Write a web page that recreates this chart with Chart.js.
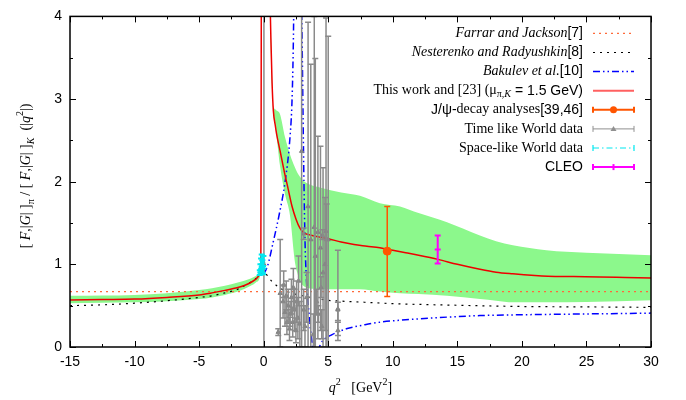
<!DOCTYPE html>
<html>
<head>
<meta charset="utf-8">
<script src="https://cdn.jsdelivr.net/npm/chart.js@4.4.1/dist/chart.umd.min.js"></script>
<style>
  html, body { margin: 0; padding: 0; background: #fff; }
</style>
</head>
<body>
<canvas id="ratioChart" width="686" height="400"></canvas>
<script>
// q^2 in GeV^2, ratio values
const farQ2 = [-15, 30];
const farVal = [0.67, 0.67];

const nesQ2 = [-15, -12.5, -10, -7.5, -5, -4, -3, -2, -1.5, -1, -0.5, 0, 0.6, 1.2, 2, 3, 4, 5, 6, 8, 10, 15, 20, 25, 30];
const nesVal = [0.50, 0.51, 0.53, 0.56, 0.60, 0.62, 0.655, 0.70, 0.74, 0.785, 0.84, 0.90, 0.80, 0.72, 0.66, 0.62, 0.59, 0.565, 0.555, 0.54, 0.525, 0.505, 0.49, 0.485, 0.48];

const bakQ2 = [0, 0.3, 0.74, 1.2, 1.65, 2.04, 2.2, 2.3, 2.36, 2.6, 2.9, 2.97, 3.05, 3.12, 3.2, 3.3, 3.45, 3.6, 3.75, 3.8, 4.25, 4.4, 4.6, 5.3, 6.4, 7.85, 9, 12, 16.75, 20, 25, 30];
const bakVal = [0.88, 0.98, 1.27, 1.6, 1.99, 2.54, 3.0, 3.7, 4.5, null, 4.5, 3.8, 2.8, 2.0, 1.3, 0.85, 0.52, 0.25, 0.05, -0.05, -0.02, 0.03, 0.08, 0.15, 0.22, 0.27, 0.30, 0.34, 0.38, 0.39, 0.40, 0.41];

const thisQ2 = [-15, -12.5, -10, -7.5, -5, -4, -3, -2, -1.5, -1, -0.6, -0.3, -0.22, -0.18, 0.1, 0.45, 0.55, 0.65, 0.75, 0.9, 1.0, 1.3, 1.6, 1.9, 2.2, 2.5, 2.8, 3.1, 3.5, 4, 5, 6, 7, 8, 9, 10, 11, 12, 13.5, 15, 16.75, 18, 19.3, 21, 22, 24, 26, 28, 30];
const thisVal = [0.57, 0.575, 0.58, 0.60, 0.63, 0.655, 0.685, 0.72, 0.745, 0.78, 0.82, 0.87, 0.95, 4.5, null, 4.5, 3.8, 3.2, 2.86, 2.68, 2.58, 2.35, 2.12, 1.91, 1.7, 1.55, 1.44, 1.38, 1.36, 1.34, 1.31, 1.27, 1.24, 1.22, 1.2, 1.17, 1.14, 1.11, 1.06, 1.0, 0.94, 0.905, 0.885, 0.865, 0.857, 0.852, 0.848, 0.842, 0.836];

const bandQ2 = [-15, -10, -7.5, -5, -4, -3, -2, -1, -0.6, -0.3, -0.22, 0.1, 0.42, 0.6, 0.75, 0.87, 1.0, 1.26, 1.65, 2.04, 2.4, 2.6, 2.81, 3.07, 3.5, 4.36, 6, 7.46, 9, 10.56, 12, 14.2, 16.75, 18, 19.3, 21.9, 25, 30];
const bandLo = [0.53, 0.54, 0.555, 0.58, 0.60, 0.63, 0.67, 0.74, 0.78, 0.84, 0.92, null, 4.5, 3.6, 2.82, 2.70, 2.55, 2.2, 1.85, 1.59, 1.05, 0.9, 0.8, 0.74, 0.71, 0.70, 0.70, 0.70, 0.67, 0.65, 0.64, 0.62, 0.58, 0.56, 0.54, 0.54, 0.545, 0.565];
const bandHi = [0.62, 0.63, 0.65, 0.69, 0.71, 0.74, 0.78, 0.83, 0.86, 0.90, 0.98, null, 4.5, 3.3, 2.9, 2.88, 2.86, 2.82, 2.54, 2.33, 2.18, 2.11, 2.06, 2.01, 1.97, 1.93, 1.87, 1.83, 1.74, 1.70, 1.62, 1.51, 1.35, 1.28, 1.23, 1.17, 1.14, 1.11];

const timeQ2 = [0.02, 1.13, 1.28, 1.5, 1.55, 1.65, 1.75, 1.8, 1.9, 2.0, 2.05, 2.15, 2.25, 2.3, 2.4, 2.5, 2.55, 2.65, 2.7, 2.8, 2.94, 3.1, 3.1, 3.2, 3.33, 3.44, 3.65, 3.85, 3.92, 4.0, 4.1, 4.2, 4.23, 4.4, 4.45, 4.5, 4.55, 4.6, 4.75, 4.83, 4.88, 5.0, 5.75, 5.75, 5.75];
const timeVal = [1.0, 0.18, 0.65, 0.55, 0.75, 0.42, 0.62, 0.30, 0.50, 0.22, 0.40, 0.60, 0.30, 0.72, 0.45, 0.20, 0.55, 0.35, 0.80, 0.28, 2.37, 0.45, 1.37, 0.25, 0.60, 1.7, 1.3, 0.15, 1.45, 1.1, 0.55, 1.39, 0.40, 1.2, 0.72, 0.25, 1.35, 0.9, 1.0, 1.4, 1.3, 1.3, 0.46, 0.45, 0.20];
const timeLo = [-1, 0.14, 0.0, 0.35, 0.6, 0.25, 0.45, 0.15, 0.3, 0.08, 0.25, 0.4, 0.12, 0.45, 0.2, 0.05, 0.3, 0.1, 0.5, 0.0, -1, 0.2, 1.3, 0.0, 0.3, -1, -1, -0.1, -1, -0.5, 0.4, 0.1, 0.3, 0.2, 0.6, 0.1, 1.3, 0.0, 0.2, -0.5, -0.5, -0.5, 0.08, 0.32, 0.14];
const timeHi = [5, 0.22, 1.3, 0.75, 0.92, 0.6, 0.8, 0.45, 0.7, 0.36, 0.55, 0.82, 0.48, 0.95, 0.7, 0.35, 0.8, 0.6, 1.1, 0.55, 5, 0.7, 1.44, 0.5, 0.9, 3.93, 3.42, 0.4, 4.0, 3.49, 0.7, 2.55, 0.5, 2.43, 0.85, 0.45, 1.42, 2.17, 1.81, 3.98, 1.73, 3.76, 1.17, 0.54, 0.3];

const spaceQ2 = [-0.3, -0.25, -0.2, -0.15, -0.1, -0.05, -0.02];
const spaceVal = [0.90, 0.95, 1.00, 1.04, 0.97, 0.93, 1.02];
const spaceLo = [0.87, 0.90, 0.94, 0.97, 0.90, 0.88, 0.95];
const spaceHi = [0.93, 1.00, 1.07, 1.12, 1.05, 0.98, 1.10];

const jpsiQ2 = [9.57];
const jpsiVal = [1.16];
const jpsiLo = [0.61];
const jpsiHi = [1.70];

const cleoQ2 = [13.48];
const cleoVal = [1.18];
const cleoLo = [1.01];
const cleoHi = [1.35];

const xTicks = [-15, -10, -5, 0, 5, 10, 15, 20, 25, 30];
const yTicks = [0, 1, 2, 3, 4];

const SERIF = '"Liberation Serif", "DejaVu Serif", serif';
const SANS = '"Liberation Sans", Arial, sans-serif';

function pts(xs, ys) {
    return xs.map((x, i) => ({ x: x, y: ys[i] }));
}

// draws a run of text pieces with their own fonts and vertical shifts
function richWidth(ctx, parts) {
    let w = 0;
    parts.forEach(p => { ctx.font = p.f; w += ctx.measureText(p.t).width; });
    return w;
}
function drawRich(ctx, parts, x, y) {
    let cx = x;
    parts.forEach(p => {
        ctx.font = p.f;
        ctx.fillText(p.t, cx, y + (p.dy || 0));
        cx += ctx.measureText(p.t).width;
    });
}

const errorBars = {
    id: 'errorBars',
    afterDatasetsDraw(chart) {
        const { ctx, chartArea: a, scales: { x, y } } = chart;
        ctx.save();
        ctx.beginPath();
        ctx.rect(a.left, a.top, a.right - a.left, a.bottom - a.top);
        ctx.clip();
        chart.data.datasets.forEach(ds => {
            if (!ds.errLo) return;
            ctx.strokeStyle = ds.errColor;
            ctx.lineWidth = ds.errWidth;
            ds.data.forEach((p, i) => {
                const px = x.getPixelForValue(p.x);
                const y0 = y.getPixelForValue(ds.errLo[i]);
                const y1 = y.getPixelForValue(ds.errHi[i]);
                ctx.beginPath();
                ctx.moveTo(px, y0); ctx.lineTo(px, y1);
                ctx.moveTo(px - 3, y0); ctx.lineTo(px + 3, y0);
                ctx.moveTo(px - 3, y1); ctx.lineTo(px + 3, y1);
                ctx.stroke();
            });
        });
        ctx.restore();
    }
};

const frameAndTicks = {
    id: 'frameAndTicks',
    afterDraw(chart) {
        const { ctx, chartArea: a, scales: { x, y } } = chart;
        ctx.save();
        ctx.strokeStyle = '#000';
        ctx.lineWidth = 1;
        ctx.beginPath();
        for (let v = -15; v <= 30; v += 2.5) {
            const px = Math.round(x.getPixelForValue(v)) + 0.5;
            const len = (v % 5 === 0) ? 6 : 3;
            ctx.moveTo(px, a.bottom); ctx.lineTo(px, a.bottom - len);
            ctx.moveTo(px, a.top); ctx.lineTo(px, a.top + len);
        }
        for (let v = 0; v <= 4; v += 0.5) {
            const py = Math.round(y.getPixelForValue(v)) + 0.5;
            const len = (v % 1 === 0) ? 6 : 3;
            ctx.moveTo(a.left, py); ctx.lineTo(a.left + len, py);
            ctx.moveTo(a.right, py); ctx.lineTo(a.right - len, py);
        }
        ctx.stroke();
        ctx.lineWidth = 1.5;
        ctx.strokeRect(a.left, a.top, a.right - a.left, a.bottom - a.top);

        // axis titles
        ctx.fillStyle = '#000';
        ctx.textBaseline = 'alphabetic';
        const f14 = '14px ' + SERIF, i14 = 'italic 14px ' + SERIF;
        const f10 = '10px ' + SERIF, i10 = 'italic 10px ' + SERIF;
        const xTitle = [
            { t: 'q', f: i14 }, { t: '2', f: f10, dy: -7 },
            { t: '   [GeV', f: f14 }, { t: '2', f: f10, dy: -7 }, { t: ']', f: f14 }
        ];
        const xw = richWidth(ctx, xTitle);
        drawRich(ctx, xTitle, (a.left + a.right) / 2 - xw / 2, 392);

        const yTitle = [
            { t: '[ ', f: f14 }, { t: 'F', f: i14 }, { t: ',|', f: f14 }, { t: 'G', f: i14 },
            { t: '| ]', f: f14 }, { t: 'π', f: f10, dy: 4 },
            { t: ' / [ ', f: f14 }, { t: 'F', f: i14 }, { t: ',|', f: f14 }, { t: 'G', f: i14 },
            { t: '| ]', f: f14 }, { t: 'K', f: i10, dy: 4 },
            { t: '  (|', f: f14 }, { t: 'q', f: i14 }, { t: '2', f: f10, dy: -7 }, { t: '|)', f: f14 }
        ];
        const yw = richWidth(ctx, yTitle);
        ctx.save();
        ctx.translate(30, 176);
        ctx.rotate(-Math.PI / 2);
        drawRich(ctx, yTitle, -yw / 2, 0);
        ctx.restore();
        ctx.restore();
    }
};

const keyBox = {
    id: 'keyBox',
    afterDraw(chart) {
        const { ctx, chartArea: a } = chart;
        const f14 = '14px ' + SERIF, i14 = 'italic 14px ' + SERIF;
        const s14 = '14px ' + SANS;
        const f10 = '10px ' + SERIF, i10 = 'italic 10px ' + SERIF;
        const rows = [
            [{ t: 'Farrar and Jackson', f: i14 }, { t: '[7]', f: s14 }],
            [{ t: 'Nesterenko and Radyushkin', f: i14 }, { t: '[8]', f: s14 }],
            [{ t: 'Bakulev et al.', f: i14 }, { t: '[10]', f: s14 }],
            [{ t: 'This work and [23] (', f: f14 }, { t: 'μ', f: f14 }, { t: 'π', f: f10, dy: 4 },
             { t: ',', f: f10, dy: 4 }, { t: 'K', f: i10, dy: 4 }, { t: ' = 1.5 GeV)', f: s14 }],
            [{ t: 'J/ψ-', f: s14 }, { t: 'decay analyses', f: f14 }, { t: '[39,46]', f: s14 }],
            [{ t: 'Time like World data', f: f14 }],
            [{ t: 'Space-like World data', f: f14 }],
            [{ t: 'CLEO', f: s14 }]
        ];
        const textRight = a.right - 68;
        const s0 = a.right - 58, s1 = a.right - 17, sm = (s0 + s1) / 2;
        ctx.save();
        ctx.fillStyle = '#000';
        ctx.textBaseline = 'middle';
        rows.forEach((r, i) => {
            const yy = a.top + 17 + i * 19.1;
            drawRich(ctx, r, textRight - richWidth(ctx, r), yy);
            const line = (col, w, dash) => {
                ctx.strokeStyle = col; ctx.lineWidth = w; ctx.setLineDash(dash);
                ctx.beginPath(); ctx.moveTo(s0, yy); ctx.lineTo(s1, yy); ctx.stroke();
                ctx.setLineDash([]);
            };
            const caps = () => {
                ctx.beginPath();
                ctx.moveTo(s0, yy - 3); ctx.lineTo(s0, yy + 3);
                ctx.moveTo(s1, yy - 3); ctx.lineTo(s1, yy + 3);
                ctx.stroke();
            };
            if (i === 0) line('#ff6a3a', 1.2, [2, 4]);
            if (i === 1) line('#000', 1.2, [2, 5]);
            if (i === 2) line('#0000ff', 1.5, [7, 3, 1.5, 3, 1.5, 3]);
            if (i === 3) line('#ff6060', 2, []);
            if (i === 4) {
                line('#ff5500', 2, []); caps();
                ctx.fillStyle = '#ff5500';
                ctx.beginPath(); ctx.arc(sm, yy, 3.5, 0, Math.PI * 2); ctx.fill();
                ctx.fillStyle = '#000';
            }
            if (i === 5) {
                line('#909090', 1, []); caps();
                ctx.fillStyle = '#909090';
                ctx.beginPath(); ctx.moveTo(sm, yy - 3); ctx.lineTo(sm + 3, yy + 2); ctx.lineTo(sm - 3, yy + 2); ctx.fill();
                ctx.fillStyle = '#000';
            }
            if (i === 6) { line('#00e8f0', 1.2, [6, 3, 1.5, 3]); caps(); }
            if (i === 7) {
                line('#ff00ff', 2, []); caps();
                ctx.beginPath(); ctx.moveTo(sm, yy - 3); ctx.lineTo(sm, yy + 3); ctx.stroke();
            }
        });
        ctx.restore();
    }
};

const ctx = document.getElementById('ratioChart').getContext('2d');

new Chart(ctx, {
    type: 'line',
    data: {
        datasets: [
            {
                data: pts(bandQ2, bandHi), borderWidth: 0, borderColor: 'rgba(0,0,0,0)',
                backgroundColor: '#8cf88c', fill: '+1', pointRadius: 0,
                cubicInterpolationMode: 'monotone', order: 20
            },
            {
                data: pts(bandQ2, bandLo), borderWidth: 0, borderColor: 'rgba(0,0,0,0)',
                fill: false, pointRadius: 0, cubicInterpolationMode: 'monotone', order: 20
            },
            {
                data: pts(farQ2, farVal), borderColor: '#ff6a3a', borderWidth: 1.2,
                borderDash: [2, 4], pointRadius: 0, fill: false, order: 10
            },
            {
                data: pts(nesQ2, nesVal), borderColor: '#000', borderWidth: 1.2,
                borderDash: [2, 5], pointRadius: 0, fill: false,
                cubicInterpolationMode: 'monotone', order: 10
            },
            {
                data: pts(bakQ2, bakVal), borderColor: '#0000ff', borderWidth: 1.5,
                borderDash: [7, 3, 1.5, 3, 1.5, 3], pointRadius: 0, fill: false,
                cubicInterpolationMode: 'monotone', order: 10
            },
            {
                data: pts(thisQ2, thisVal), borderColor: '#ee0000', borderWidth: 1.5,
                pointRadius: 0, fill: false, cubicInterpolationMode: 'monotone', order: 9
            },
            {
                data: pts(timeQ2, timeVal), showLine: false, pointStyle: 'triangle',
                pointRadius: 2.5, borderColor: '#808080', backgroundColor: '#808080',
                errLo: timeLo, errHi: timeHi, errColor: '#8a8a8a', errWidth: 1.5, order: 5
            },
            {
                data: pts(spaceQ2, spaceVal), showLine: false, pointRadius: 1.5,
                borderColor: '#00e8f0', backgroundColor: '#00e8f0',
                errLo: spaceLo, errHi: spaceHi, errColor: '#00e8f0', errWidth: 2, order: 4
            },
            {
                data: pts(jpsiQ2, jpsiVal), showLine: false, pointRadius: 4,
                borderColor: '#ff5500', backgroundColor: '#ff5500',
                errLo: jpsiLo, errHi: jpsiHi, errColor: '#ff5500', errWidth: 1.5, order: 3
            },
            {
                data: pts(cleoQ2, cleoVal), showLine: false, pointStyle: 'line', pointRadius: 3,
                borderColor: '#ff00ff', backgroundColor: '#ff00ff', borderWidth: 2,
                errLo: cleoLo, errHi: cleoHi, errColor: '#ff00ff', errWidth: 2, order: 3
            }
        ]
    },
    options: {
        responsive: false,
        animation: false,
        layout: { padding: { top: 11, right: 35, left: 0, bottom: 0 } },
        plugins: {
            legend: { display: false },
            tooltip: { enabled: false }
        },
        scales: {
            x: {
                type: 'linear', min: -15, max: 30,
                afterFit: (s) => { s.height = 53; },
                afterBuildTicks: (s) => { s.ticks = xTicks.map(v => ({ value: v })); },
                grid: { display: false, drawTicks: false },
                border: { display: false },
                ticks: { color: '#000', padding: 7, font: { family: SANS, size: 14 } }
            },
            y: {
                type: 'linear', min: 0, max: 4,
                afterFit: (s) => { s.width = 70; },
                afterBuildTicks: (s) => { s.ticks = yTicks.map(v => ({ value: v })); },
                grid: { display: false, drawTicks: false },
                border: { display: false },
                ticks: { color: '#000', padding: 8, font: { family: SANS, size: 14 } }
            }
        }
    },
    plugins: [errorBars, frameAndTicks, keyBox]
});
</script>
</body>
</html>
